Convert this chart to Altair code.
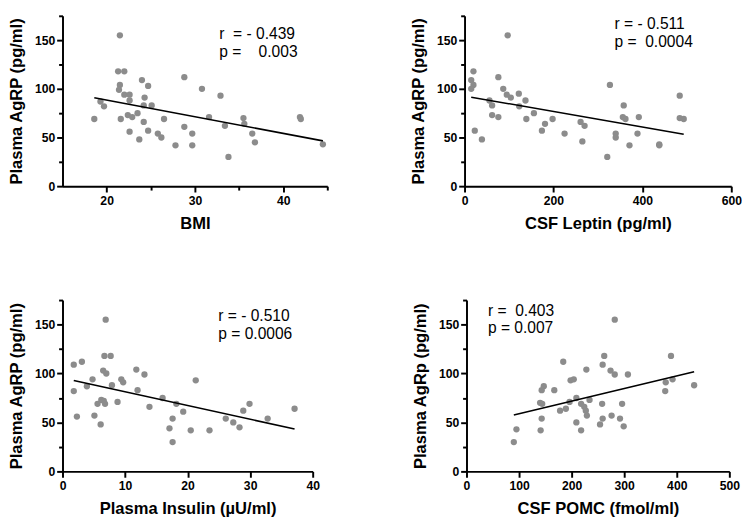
import altair as alt
import pandas as pd

FONT = "Liberation Sans"
GREY = "#8c8c8c"

# ---- data ----
bmi = [21.5, 21.3, 22.0, 21.5, 21.4, 22.0, 22.6, 22.6, 24.0, 24.7, 24.3, 24.2, 25.1, 19.3, 19.7,
       18.6, 21.6, 22.4, 22.9, 23.5, 24.2, 22.6, 24.7, 23.7, 25.8, 26.2, 26.5, 27.8, 28.8, 28.8,
       29.7, 29.7, 30.8, 31.6, 32.9, 33.4, 33.8, 35.5, 35.6, 36.5, 36.8, 41.9, 42.0, 44.5]
agrp_bmi = [155, 118, 118, 104, 99, 94, 94, 88, 109, 103, 91, 83, 83, 87, 82,
            69, 69, 73, 71, 75, 66, 56, 57, 48, 54, 50, 69, 42, 112, 61,
            54, 42, 100, 71, 93, 62, 30, 70, 64, 54, 45, 71, 69, 43]

leptin = [97, 20, 15, 20, 15, 76, 87, 95, 104, 122, 137, 56, 62, 123, 62,
          76, 139, 156, 23, 39, 174, 181, 198, 225, 261, 270, 265, 321, 327, 340,
          340, 358, 356, 362, 371, 392, 389, 438, 438, 484, 484, 493]
agrp_leptin = [155, 118, 109, 104, 100, 112, 100, 94, 91, 95, 88, 88, 83, 82, 73,
               71, 69, 75, 57, 48, 57, 64, 69, 54, 66, 62, 46, 30, 104, 54,
               50, 83, 71, 69, 42, 71, 54, 43, 42, 93, 70, 69]

insulin = [6.9, 6.7, 7.7, 1.8, 3.1, 6.5, 7.0, 11.8, 13.1, 1.8, 3.9, 4.8, 9.4, 9.7, 7.9,
           12.0, 2.3, 5.1, 5.6, 6.2, 6.6, 6.8, 6.1, 8.8, 13.9, 16.0, 18.2, 21.3, 19.3, 17.6,
           17.1, 17.6, 20.5, 23.5, 26.1, 27.3, 28.3, 28.9, 29.9, 32.8, 37.1]
agrp_insulin = [155, 118, 118, 109, 112, 103, 100, 104, 99, 82, 87, 94, 94, 91, 88,
                83, 56, 57, 69, 73, 72, 69, 48, 71, 66, 75, 69, 93, 61, 54,
                44, 30, 42, 42, 54, 50, 45, 62, 69, 54, 64]

pomc = [282, 262, 389, 184, 259, 228, 274, 282, 307, 198, 204, 392, 433, 379, 378,
        147, 143, 167, 140, 144, 178, 189, 196, 209, 218, 224, 227, 229, 234, 258,
        296, 276, 259, 254, 292, 299, 143, 141, 209, 218, 95, 90]
agrp_pomc = [155, 118, 118, 112, 109, 104, 103, 99, 99, 93, 94, 94, 88, 91, 82,
             87, 83, 83, 70, 69, 62, 64, 71, 75, 69, 66, 62, 57, 73, 69,
             69, 57, 54, 48, 54, 46, 54, 42, 50, 42, 43, 30]

NB = "\u00a0"
stats_bmi = ["r" + NB * 2 + "=" + NB + "-" + NB + "0.439", "p" + NB + "=" + NB * 4 + "0.003"]
stats_leptin = ["r" + NB + "=" + NB + "-" + NB + "0.511", "p" + NB + "=" + NB * 2 + "0.0004"]
stats_insulin = ["r = - 0.510", "p = 0.0006"]
stats_pomc = ["r =" + NB * 2 + "0.403", "p = 0.007"]

y_values = [0, 25, 50, 75, 100, 125, 150, 175]


def make_panel(xs, ys, xtitle, ytitle, xdomain, xvalues, xmajor, width, height,
               lines, tx, ty, ytpad):
    df = pd.DataFrame({"x": xs, "y": ys})
    xaxis = alt.Axis(
        values=xvalues,
        labelExpr=f"datum.value % {xmajor} === 0 ? datum.label : ''",
        tickSize={"condition": {"test": f"datum.value % {xmajor} === 0", "value": 6}, "value": 4},
        title=xtitle, titlePadding=9, labelPadding=3, labelFlush=False,
    )
    yaxis = alt.Axis(
        values=y_values,
        labelExpr="datum.value % 50 === 0 ? datum.label : ''",
        tickSize={"condition": {"test": "datum.value % 50 === 0", "value": 6}, "value": 4},
        title=ytitle, titlePadding=ytpad, labelPadding=2, labelFlush=False,
    )
    xenc = alt.X("x:Q", scale=alt.Scale(domain=xdomain, nice=False, zero=False), axis=xaxis)
    yenc = alt.Y("y:Q", scale=alt.Scale(domain=[0, 175], nice=False), axis=yaxis)
    pts = alt.Chart(df).mark_circle(size=42, color=GREY, opacity=1).encode(x=xenc, y=yenc)
    fit = (alt.Chart(df).transform_regression("x", "y")
           .mark_line(color="black", strokeWidth=1.6).encode(x=xenc, y=yenc))
    txt = (alt.Chart(pd.DataFrame({"k": [0]}))
           .mark_text(text=lines, align="left", baseline="alphabetic", font=FONT,
                      fontSize=16, lineHeight=18, color="black")
           .encode(x=alt.value(tx), y=alt.value(ty)))
    return alt.layer(pts, fit, txt).properties(width=width, height=height)


p1 = make_panel(bmi, agrp_bmi, "BMI", "Plasma AgRP (pg/ml)", [15, 45],
                [20, 25, 30, 35, 40, 45], 10, 272, 175, stats_bmi, 161, 24, 9)
p2 = make_panel(leptin, agrp_leptin, "CSF Leptin (pg/ml)", "Plasma AgRP (pg/ml)", [0, 600],
                [0, 200, 400, 600], 200, 274, 175, stats_leptin, 154, 14, 9)
p3 = make_panel(insulin, agrp_insulin, "Plasma Insulin (\u00b5U/ml)", "Plasma AgRP (pg/ml)", [0, 40],
                [0, 10, 20, 30, 40], 10, 257, 176, stats_insulin, 160, 22, 9)
p4 = make_panel(pomc, agrp_pomc, "CSF POMC (fmol/ml)", "Plasma AgRp (pg/ml)", [0, 500],
                [0, 100, 200, 300, 400, 500], 100, 270, 176, stats_pomc, 22, 16, 9)

chart = alt.vconcat(
    alt.hconcat(p1, p2, spacing=84),
    alt.hconcat(p3, p4, spacing=95),
    spacing=69,
).properties(padding=0, background="white").configure_axis(
    domainColor="black", domainWidth=2, tickColor="black", tickWidth=2,
    labelFont=FONT, labelFontSize=12.5, labelFontWeight="bold", labelColor="black",
    titleFont=FONT, titleFontSize=17, titleFontWeight="bold", titleColor="black",
    grid=False,
).configure_view(stroke=None)

chart.save("out.html", embed_options={"renderer": "svg", "actions": False})
